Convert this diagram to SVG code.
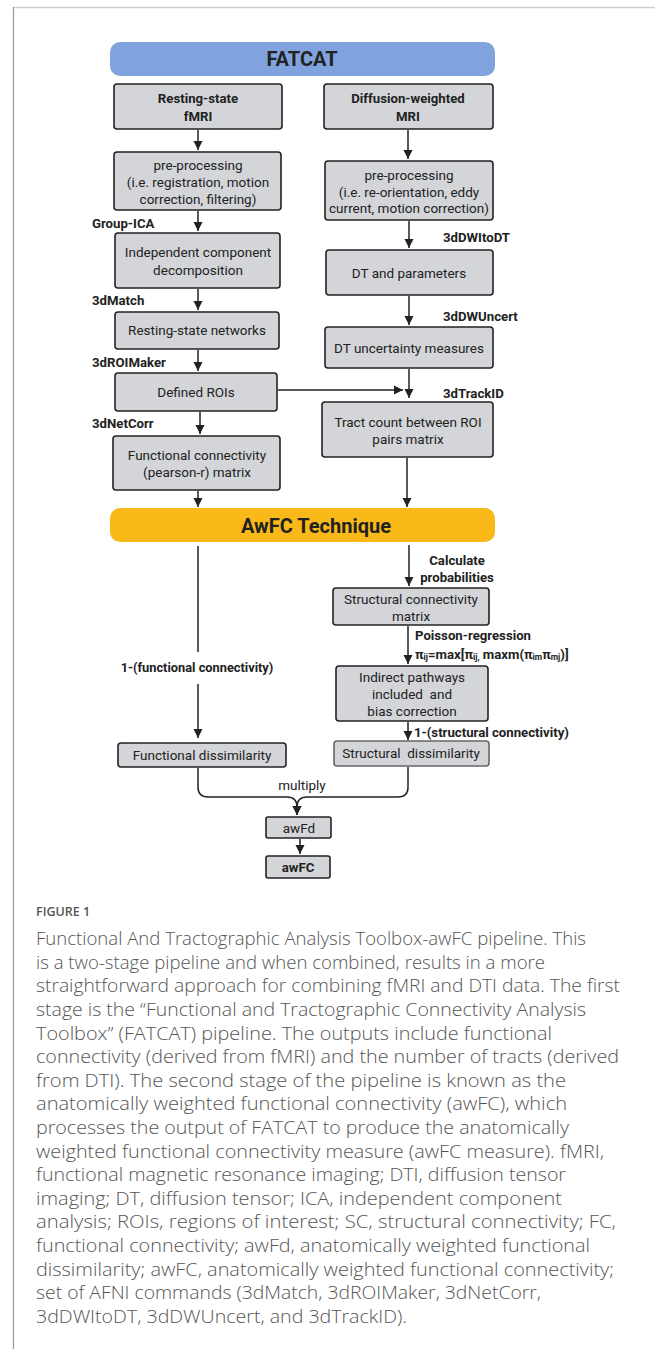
<svg xmlns="http://www.w3.org/2000/svg" width="655" height="1349" viewBox="0 0 655 1349">
<style>
.box{fill:#d3d5d8;stroke:#222;stroke-width:1.6}
.t{font-family:Roboto,"Liberation Sans",sans-serif;font-size:13.5px;fill:#222;text-anchor:middle;dominant-baseline:central}
.tb{font-family:Roboto,"Liberation Sans",sans-serif;font-size:13.2px;font-weight:bold;fill:#222;text-anchor:middle;dominant-baseline:central}
.lb{font-family:Roboto,"Liberation Sans",sans-serif;font-size:13.2px;font-weight:bold;fill:#222;dominant-baseline:central}
.big{font-family:Roboto,"Liberation Sans",sans-serif;font-size:20px;font-weight:bold;fill:#222;text-anchor:middle;dominant-baseline:central}
.ln{fill:none;stroke:#222;stroke-width:1.5}
.cap{font-family:"Open Sans","Liberation Sans",sans-serif;font-size:18.5px;font-weight:300;fill:#555}
.fig{font-family:"Open Sans","Liberation Sans",sans-serif;font-size:12.5px;font-weight:600;fill:#555}
</style>
<defs>
<marker id="ah" markerUnits="userSpaceOnUse" markerWidth="10" markerHeight="10" viewBox="0 0 10 10" refX="9" refY="5" orient="auto">
<path d="M0,0.5 L9,5 L0,9.5 Z" fill="#222"/>
</marker>
</defs>
<g id="frame">
<line x1="13" y1="7.5" x2="655" y2="7.5" stroke="#cfcfcf" stroke-width="1.5"/>
<line x1="13.5" y1="7" x2="13.5" y2="1349" stroke="#9a9a9a" stroke-width="1.2"/>
</g>
<g id="fatcat">
<rect x="110" y="42" width="385" height="34" rx="10" fill="#80a3de"/>
<text class="big" x="302" y="59">FATCAT</text>
</g>
<g id="rsfmri">
<rect class="box" x="114" y="84" width="168" height="45" rx="3"/>
<text class="tb" x="198" y="98">Resting-state</text>
<text class="tb" x="198" y="116">fMRI</text>
</g>
<g id="dwmri">
<rect class="box" x="324" y="84" width="169" height="45" rx="3"/>
<text class="tb" x="408" y="98">Diffusion-weighted</text>
<text class="tb" x="408" y="116">MRI</text>
</g>
<g id="prepL">
<rect class="box" x="114" y="152" width="167" height="58" rx="3"/>
<text class="t" x="198" y="165">pre-processing</text>
<text class="t" x="198" y="182">(i.e. registration, motion</text>
<text class="t" x="198" y="199">correction, filtering)</text>
</g>
<g id="prepR">
<rect class="box" x="325" y="161" width="168" height="59" rx="3"/>
<text class="t" x="409" y="175">pre-processing</text>
<text class="t" x="409" y="192">(i.e. re-orientation, eddy</text>
<text class="t" x="409" y="208">current, motion correction)</text>
</g>
<g id="ica">
<rect class="box" x="115" y="233" width="165" height="55" rx="3"/>
<text class="t" x="198" y="252">Independent component</text>
<text class="t" x="198" y="270">decomposition</text>
</g>
<g id="rsn">
<rect class="box" x="115" y="312" width="164" height="37" rx="3"/>
<text class="t" x="197" y="330">Resting-state networks</text>
</g>
<g id="rois">
<rect class="box" x="115" y="373" width="162" height="38" rx="3"/>
<text class="t" x="196" y="392">Defined ROIs</text>
</g>
<g id="fcm">
<rect class="box" x="113" y="436" width="167" height="54" rx="3"/>
<text class="t" x="197" y="455">Functional connectivity</text>
<text class="t" x="197" y="472">(pearson-r) matrix</text>
</g>
<g id="dtp">
<rect class="box" x="326" y="250" width="167" height="45" rx="3"/>
<text class="t" x="409" y="273">DT and parameters</text>
</g>
<g id="dtu">
<rect class="box" x="325" y="327" width="168" height="41" rx="3"/>
<text class="t" x="409" y="348">DT uncertainty measures</text>
</g>
<g id="tract">
<rect class="box" x="322" y="402" width="171" height="55" rx="3"/>
<text class="t" x="408" y="422">Tract count between ROI</text>
<text class="t" x="408" y="439">pairs matrix</text>
</g>
<g id="awfc">
<rect x="110" y="508" width="385" height="34" rx="10" fill="#f9b918"/>
<text class="big" x="316" y="526">AwFC Technique</text>
</g>
<g id="scm">
<rect class="box" x="333" y="588" width="156" height="37" rx="3"/>
<text class="t" x="411" y="599">Structural connectivity</text>
<text class="t" x="411" y="616">matrix</text>
</g>
<g id="indirect">
<rect class="box" x="336" y="666" width="152" height="55" rx="3"/>
<text class="t" x="412" y="677">Indirect pathways</text>
<text class="t" x="412" y="694" xml:space="preserve">included  and</text>
<text class="t" x="412" y="711">bias correction</text>
</g>
<g id="fdis">
<rect class="box" x="118" y="743" width="168" height="24" rx="3"/>
<text class="t" x="202" y="755">Functional dissimilarity</text>
</g>
<g id="sdis">
<rect class="box" x="334" y="741" width="155" height="25" rx="3" style="stroke:#666"/>
<text class="t" x="411" y="753" xml:space="preserve">Structural  dissimilarity</text>
</g>
<g id="awfd">
<rect class="box" x="266" y="817" width="65" height="21" rx="2"/>
<text class="t" x="299" y="828">awFd</text>
</g>
<g id="awfcout">
<rect class="box" x="266" y="856" width="64" height="22" rx="2"/>
<text class="tb" x="298" y="867">awFC</text>
</g>
<g id="connectors">
<line class="ln" x1="198" y1="130" x2="198" y2="150" marker-end="url(#ah)"/>
<line class="ln" x1="408" y1="130" x2="408" y2="159" marker-end="url(#ah)"/>
<line class="ln" x1="198" y1="211" x2="198" y2="231" marker-end="url(#ah)"/>
<line class="ln" x1="409" y1="221" x2="409" y2="248" marker-end="url(#ah)"/>
<line class="ln" x1="198" y1="289" x2="198" y2="310" marker-end="url(#ah)"/>
<line class="ln" x1="409" y1="296" x2="409" y2="325" marker-end="url(#ah)"/>
<line class="ln" x1="198" y1="350" x2="198" y2="371" marker-end="url(#ah)"/>
<line class="ln" x1="409" y1="369" x2="409" y2="398" marker-end="url(#ah)"/>
<line class="ln" x1="278" y1="390" x2="403" y2="390" marker-end="url(#ah)"/>
<line class="ln" x1="200" y1="412" x2="200" y2="434" marker-end="url(#ah)"/>
<line class="ln" x1="198" y1="491" x2="198" y2="507" marker-end="url(#ah)"/>
<line class="ln" x1="407" y1="458" x2="407" y2="507" marker-end="url(#ah)"/>
<line class="ln" x1="198" y1="546" x2="198" y2="652"/>
<line class="ln" x1="198" y1="684" x2="198" y2="738" marker-end="url(#ah)"/>
<line class="ln" x1="409" y1="545" x2="409" y2="586" marker-end="url(#ah)"/>
<line class="ln" x1="408" y1="626" x2="408" y2="664" marker-end="url(#ah)"/>
<line class="ln" x1="408" y1="722" x2="408" y2="740" marker-end="url(#ah)"/>
<path class="ln" d="M198,768 V787 Q198,797 208,797 H287 Q297,797 297,807 V815" marker-end="url(#ah)"/>
<path class="ln" d="M408,767 V787 Q408,797 398,797 H307 Q297,797 297,807 V815" marker-end="url(#ah)"/>
<line class="ln" x1="300" y1="839" x2="300" y2="854" marker-end="url(#ah)"/>
</g>
<g id="labels">
<text class="lb" x="92" y="223">Group-ICA</text>
<text class="lb" x="92" y="300">3dMatch</text>
<text class="lb" x="92" y="362">3dROIMaker</text>
<text class="lb" x="92" y="423">3dNetCorr</text>
<text class="lb" x="443" y="237">3dDWItoDT</text>
<text class="lb" x="443" y="316">3dDWUncert</text>
<text class="lb" x="443" y="393">3dTrackID</text>
<text class="tb" x="457" y="560">Calculate</text>
<text class="tb" x="457" y="577">probabilities</text>
<text class="lb" x="415" y="635">Poisson-regression</text>
<text class="lb" x="415" y="654">π<tspan font-size="8.5" dy="3">ij</tspan><tspan dy="-3">=max[π</tspan><tspan font-size="8.5" dy="3">ij,</tspan><tspan dy="-3"> maxm(π</tspan><tspan font-size="8.5" dy="3">im</tspan><tspan dy="-3">π</tspan><tspan font-size="8.5" dy="3">mj</tspan><tspan dy="-3">)]</tspan></text>
<text class="tb" x="197" y="667" style="font-size:12.8px">1-(functional connectivity)</text>
<text class="lb" x="414" y="732">1-(structural connectivity)</text>
<text class="t" x="302" y="785">multiply</text>
</g>
<g id="caption">
<text class="fig" x="36" y="916">FIGURE 1</text>
<text class="cap" x="36" y="945" textLength="550" lengthAdjust="spacingAndGlyphs">Functional And Tractographic Analysis Toolbox-awFC pipeline. This</text>
<text class="cap" x="36" y="969" textLength="509" lengthAdjust="spacingAndGlyphs">is a two-stage pipeline and when combined, results in a more</text>
<text class="cap" x="36" y="992" textLength="584" lengthAdjust="spacingAndGlyphs">straightforward approach for combining fMRI and DTI data. The first</text>
<text class="cap" x="36" y="1016" textLength="550" lengthAdjust="spacingAndGlyphs">stage is the “Functional and Tractographic Connectivity Analysis</text>
<text class="cap" x="36" y="1040" textLength="516" lengthAdjust="spacingAndGlyphs">Toolbox” (FATCAT) pipeline. The outputs include functional</text>
<text class="cap" x="36" y="1063" textLength="583" lengthAdjust="spacingAndGlyphs">connectivity (derived from fMRI) and the number of tracts (derived</text>
<text class="cap" x="36" y="1087" textLength="530" lengthAdjust="spacingAndGlyphs">from DTI). The second stage of the pipeline is known as the</text>
<text class="cap" x="36" y="1110" textLength="531" lengthAdjust="spacingAndGlyphs">anatomically weighted functional connectivity (awFC), which</text>
<text class="cap" x="36" y="1134" textLength="533" lengthAdjust="spacingAndGlyphs">processes the output of FATCAT to produce the anatomically</text>
<text class="cap" x="36" y="1158" textLength="568" lengthAdjust="spacingAndGlyphs">weighted functional connectivity measure (awFC measure). fMRI,</text>
<text class="cap" x="36" y="1181" textLength="530" lengthAdjust="spacingAndGlyphs">functional magnetic resonance imaging; DTI, diffusion tensor</text>
<text class="cap" x="36" y="1205" textLength="526" lengthAdjust="spacingAndGlyphs">imaging; DT, diffusion tensor; ICA, independent component</text>
<text class="cap" x="36" y="1228" textLength="580" lengthAdjust="spacingAndGlyphs">analysis; ROIs, regions of interest; SC, structural connectivity; FC,</text>
<text class="cap" x="36" y="1252" textLength="554" lengthAdjust="spacingAndGlyphs">functional connectivity; awFd, anatomically weighted functional</text>
<text class="cap" x="36" y="1276" textLength="578" lengthAdjust="spacingAndGlyphs">dissimilarity; awFC, anatomically weighted functional connectivity;</text>
<text class="cap" x="36" y="1299" textLength="505" lengthAdjust="spacingAndGlyphs">set of AFNI commands (3dMatch, 3dROIMaker, 3dNetCorr,</text>
<text class="cap" x="36" y="1323" textLength="371" lengthAdjust="spacingAndGlyphs">3dDWItoDT, 3dDWUncert, and 3dTrackID).</text>
</g>
</svg>
